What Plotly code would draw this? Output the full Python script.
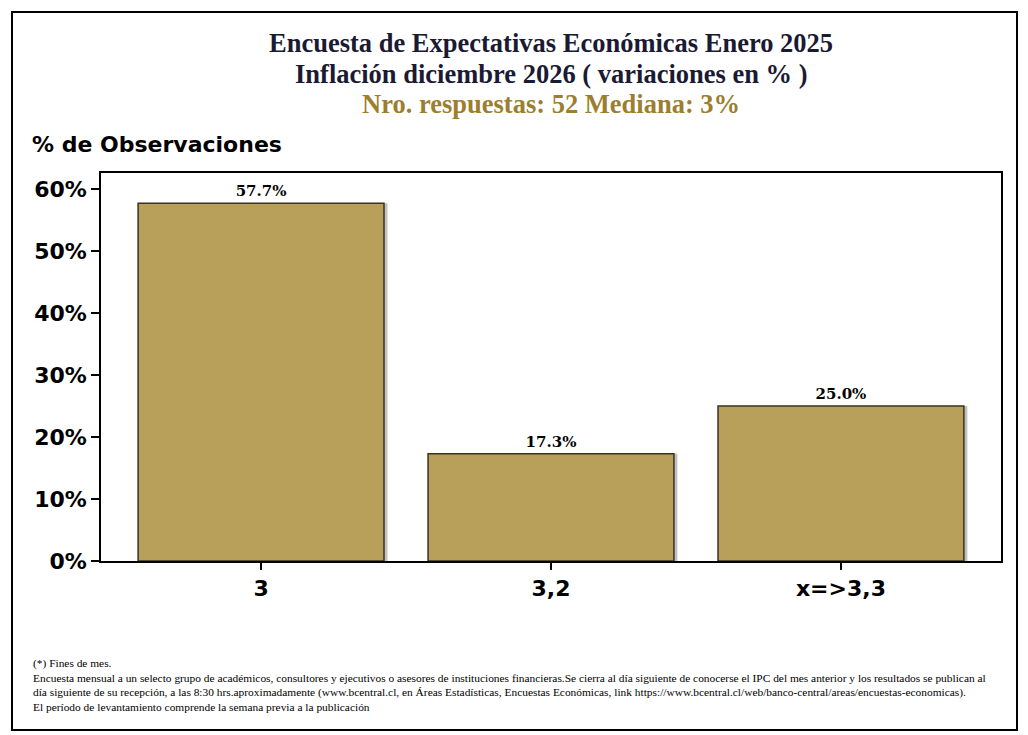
import plotly.graph_objects as go

categories = ["3", "3,2", "x=>3,3"]
values = [57.7, 17.3, 25.0]
labels = ["57.7%", "17.3%", "25.0%"]
yticks = [0, 10, 20, 30, 40, 50, 60]
yticklabels = ["0%", "10%", "20%", "30%", "40%", "50%", "60%"]

W, H = 1028, 735
OFF = 8  # page body margin
L, R, T, B = 101 - OFF, 27 + OFF, 173 - OFF, 174 + OFF

fig = go.Figure()
# shadow
fig.add_trace(go.Bar(
    x=[0.012 + i for i in range(len(categories))], y=values, width=0.848,
    marker=dict(color="rgba(120,120,120,0.45)", line=dict(width=0)),
    hoverinfo="skip", showlegend=False))
fig.add_trace(go.Bar(
    x=list(range(len(categories))), y=values, width=0.848,
    marker=dict(color="#b9a05a", line=dict(color="#3a3320", width=1.5)),
    text=["<b>%s</b>" % t for t in labels], textposition="outside", cliponaxis=False,
    textfont=dict(family="DejaVu Serif", size=15, color="#000000"),
    showlegend=False))

fig.update_layout(
    width=W, height=H, barmode="overlay",
    margin=dict(l=L, r=R, t=T, b=B),
    paper_bgcolor="white", plot_bgcolor="white",
    uniformtext=dict(minsize=15, mode="show"),
    xaxis=dict(range=[-0.552, 2.552], tickvals=list(range(len(categories))),
               ticktext=["<b>%s</b>" % c for c in categories],
               ticks="outside", ticklen=7, tickwidth=1.5,
               tickcolor="black", showgrid=False, zeroline=False,
               showline=True, linecolor="black", linewidth=2, mirror=True,
               tickfont=dict(family="DejaVu Sans", size=22, color="black")),
    yaxis=dict(range=[0, 62.6], tickvals=yticks,
               ticktext=["<b>%s</b>" % c for c in yticklabels],
               ticks="outside", ticklen=8, tickwidth=1.5, tickcolor="black",
               showgrid=False, zeroline=False, showline=True, linecolor="black",
               linewidth=1.5, mirror=True,
               tickfont=dict(family="DejaVu Sans", size=22, color="black")),
    font=dict(family="DejaVu Sans"),
)

def px_x(x):
    return (x - OFF - L) / (W - L - R)

def px_y(y):
    return (H - B - (y - OFF)) / (H - T - B)

def ann2(text, x, y, size, color, family, xanchor="center", bold=True):
    fig.add_annotation(text=("<b>%s</b>" % text) if bold else text,
                       x=px_x(x), y=px_y(y), xref="paper", yref="paper",
                       xanchor=xanchor, yanchor="middle", showarrow=False,
                       font=dict(size=size, color=color, family=family))

title_font = "Liberation Serif"
ann2("Encuesta de Expectativas Económicas Enero 2025", 551, 43, 26.5, "#1b1a33", title_font)
ann2("Inflación diciembre 2026 ( variaciones en % )", 551, 74, 26.5, "#1b1a33", title_font)
ann2("Nro. respuestas: 52 Mediana: 3%", 551, 104, 26.5, "#9c7f2e", title_font)
ann2("% de Observaciones", 30, 144, 22, "black", "DejaVu Sans", xanchor="left")

foot_font = "Liberation Serif"
foot = [
    ("(*) Fines de mes.", 663),
    ("Encuesta mensual a un selecto grupo de académicos, consultores y ejecutivos o asesores de instituciones financieras.Se cierra al día siguiente de conocerse el IPC del mes anterior y los resultados se publican al", 678),
    ("día siguiente de su recepción, a las 8:30 hrs.aproximadamente (www.bcentral.cl, en Áreas Estadísticas, Encuestas Económicas, link https://www.bcentral.cl/web/banco-central/areas/encuestas-economicas).", 692),
    ("El período de levantamiento comprende la semana previa a la publicación", 707),
]
for t, y in foot:
    ann2(t, 31, y, 11.4, "black", foot_font, xanchor="left", bold=False)

# outer frame
fig.add_shape(type="rect", xref="paper", yref="paper",
              x0=px_x(12), x1=px_x(1017), y0=px_y(730), y1=px_y(12),
              line=dict(color="black", width=2), layer="above")

fig.write_html("out.html")
